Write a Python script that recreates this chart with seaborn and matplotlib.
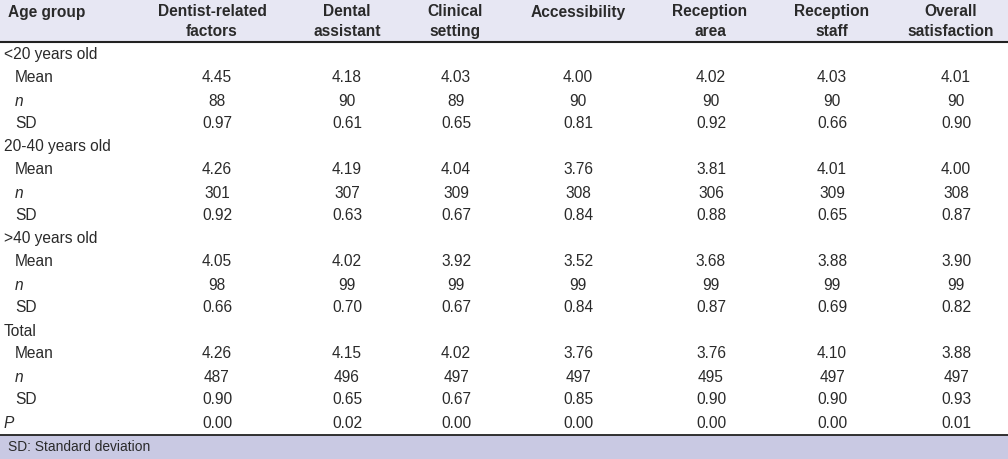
import matplotlib.pyplot as plt
import pandas as pd
import seaborn as sns

columns = ['Dentist-related\nfactors', 'Dental\nassistant', 'Clinical\nsetting', 'Accessibility',
           'Reception\narea', 'Reception\nstaff', 'Overall\nsatisfaction']
groups = ['<20 years old', '20-40 years old', '>40 years old', 'Total']

mean_vals = [[4.45, 4.18, 4.03, 4.00, 4.02, 4.03, 4.01],
             [4.26, 4.19, 4.04, 3.76, 3.81, 4.01, 4.00],
             [4.05, 4.02, 3.92, 3.52, 3.68, 3.88, 3.90],
             [4.26, 4.15, 4.02, 3.76, 3.76, 4.10, 3.88]]
n_vals = [[88, 90, 89, 90, 90, 90, 90],
          [301, 307, 309, 308, 306, 309, 308],
          [98, 99, 99, 99, 99, 99, 99],
          [487, 496, 497, 497, 495, 497, 497]]
sd_vals = [[0.97, 0.61, 0.65, 0.81, 0.92, 0.66, 0.90],
           [0.92, 0.63, 0.67, 0.84, 0.88, 0.65, 0.87],
           [0.66, 0.70, 0.67, 0.84, 0.87, 0.69, 0.82],
           [0.90, 0.65, 0.67, 0.85, 0.90, 0.90, 0.93]]
p_vals = [0.00, 0.02, 0.00, 0.00, 0.00, 0.00, 0.01]
footnote = 'SD: Standard deviation'

# build the table rows
rows = []
for g, m, n, s in zip(groups, mean_vals, n_vals, sd_vals):
    rows.append((g, None, 'group'))
    rows.append(('Mean', ['%.2f' % v for v in m], 'stat'))
    rows.append(('n', [str(v) for v in n], 'italic'))
    rows.append(('SD', ['%.2f' % v for v in s], 'stat'))
rows.append(('P', ['%.2f' % v for v in p_vals], 'p'))
df = pd.DataFrame(rows, columns=['label', 'values', 'kind'])

sns.set_theme(style='white')
plt.rcParams['font.family'] = ['Liberation Sans', 'DejaVu Sans']

fig = plt.figure(figsize=(10.08, 4.59), dpi=100)
ax = fig.add_axes([0, 0, 1, 1])
ax.set_xlim(0, 1008)
ax.set_ylim(459, 0)
ax.axis('off')

head_x = [212, 347, 455, 578, 710, 832, 951]
val_x = [217, 347, 456, 578, 711, 832, 956]
txt = '#2a2a2a'
fs = 11.2

# header band
ax.axhspan(0, 42, color='#e7e7f3', lw=0)
ax.axhline(42, color='#222222', lw=1.5)
ax.text(8, 12, 'Age group', ha='left', va='center', fontsize=fs, fontweight='bold', color=txt)
for x, c in zip(head_x, columns):
    ax.text(x, 21.5 if '\n' in c else 12, c, ha='center', va='center', fontsize=fs,
            fontweight='bold', color=txt, linespacing=1.35)

# body
y0, step = 55, 23.0
for i, r in df.iterrows():
    y = y0 + i * step
    if r['kind'] == 'group':
        ax.text(4, y, r['label'], ha='left', va='center', fontsize=fs, color=txt)
        continue
    x_lab = 4 if r['kind'] == 'p' else 15
    style = 'italic' if r['kind'] in ('italic', 'p') else 'normal'
    ax.text(x_lab, y, r['label'], ha='left', va='center', fontsize=fs, color=txt, style=style)
    for x, v in zip(val_x, r['values']):
        ax.text(x, y, v, ha='center', va='center', fontsize=fs, color=txt)

# footer band
ax.axhline(434.5, color='#222222', lw=1.3)
ax.axhspan(435, 459, color='#c9c9e3', lw=0)
ax.text(8, 447, footnote, ha='left', va='center', fontsize=9.9, color=txt)

fig.savefig('out.png', dpi=100)
